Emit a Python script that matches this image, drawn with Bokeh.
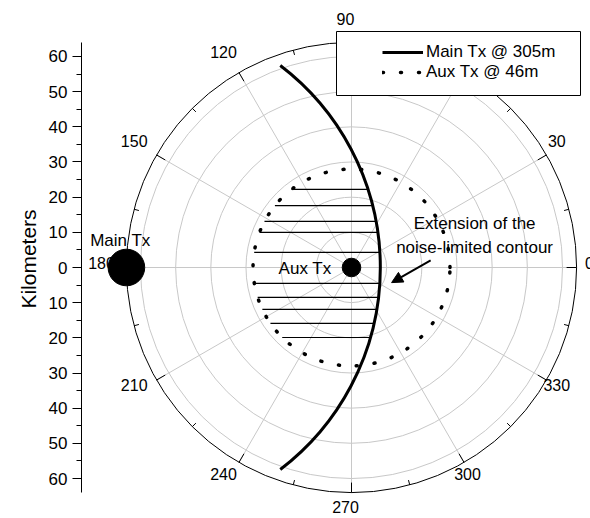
import numpy as np
from bokeh.plotting import figure
from bokeh.models import (FixedTicker, Legend, LegendItem, BoxAnnotation, Arrow,
                          NormalHead, Range1d)
from bokeh.core.properties import value
from bokeh.embed import file_html
from bokeh.resources import INLINE

# ---------------- data ----------------
r_max = 64                                   # km, outer ring
ring_radii = [10, 20, 30, 40, 50, 60]        # km
spoke_angles = [0, 30, 60, 90, 120, 150, 180, 210, 240, 270, 300, 330]
angle_labels = ["0", "30", "60", "90", "120", "150", "180", "210", "240", "270", "300", "330"]
minor_angles = [15, 45, 75, 105, 135, 165, 195, 225, 255, 285, 315, 345]
km_ticks = [-60, -50, -40, -30, -20, -10, 0, 10, 20, 30, 40, 50, 60]
km_tick_labels = ["60", "50", "40", "30", "20", "10", "0", "10", "20", "30", "40", "50", "60"]
km_minor = [-55, -45, -35, -25, -15, -5, 5, 15, 25, 35, 45, 55]

main_tx_angle, main_tx_dist = 180, 64        # deg, km
aux_tx_angle, aux_tx_dist = 0, 0
main_contour_radius = 72.2                   # km around Main Tx
main_contour_half_span = 52.7                # deg, seen from Main Tx
aux_contour_radius = 28                      # km around Aux Tx
hatch_y = [22.2, 17.6, 13.1, 10.0, 4.3, -4.5, -8.5, -11.9, -15.9, -19.9]

series_names = ["Main Tx @ 305m", "Aux Tx @ 46m"]
annotation_text = "Extension of the\nnoise-limited contour"
annotation_pos = (35.0, 9.1)
arrow_start = (22.5, 2.0)
arrow_end = (11.4, -4.3)

# ---------------- figure ----------------
PX_PER_KM = 3.517
FONT = value("Liberation Sans")
GRID = "#c8c8c8"
FW, FH, LEFT = 509, 517, 81
CX, CY = 270, 267        # polar centre inside the frame, px

p = figure(frame_width=FW, frame_height=FH,
           x_range=Range1d(-CX / PX_PER_KM, (FW - CX) / PX_PER_KM),
           y_range=Range1d(-(FH - CY) / PX_PER_KM, CY / PX_PER_KM),
           x_axis_location=None, y_axis_location="left",
           min_border_left=LEFT, min_border_right=0, min_border_top=0, min_border_bottom=0,
           toolbar_location=None, output_backend="svg",
           background_fill_color="white", border_fill_color="white")
p.outline_line_color = None
p.grid.visible = False

# left axis
ax = p.yaxis[0]
ax.ticker = FixedTicker(ticks=km_ticks, minor_ticks=km_minor)
ax.major_label_overrides = {t: l for t, l in zip(km_ticks, km_tick_labels)}
ax.bounds = (-r_max, r_max)
ax.axis_label = "Kilometers"
ax.axis_label_text_font = "Liberation Sans"
ax.axis_label_text_font_size = "21px"
ax.axis_label_text_font_style = "normal"
ax.axis_label_text_color = "black"
ax.axis_label_standoff = 6
ax.major_label_text_font = "Liberation Sans"
ax.major_label_text_font_size = "17px"
ax.major_label_text_color = "black"
ax.major_label_standoff = 5
ax.major_tick_out = 9
ax.major_tick_in = 0
ax.minor_tick_out = 5
ax.minor_tick_in = 0
ax.axis_line_color = "black"
ax.major_tick_line_color = "black"
ax.minor_tick_line_color = "black"

# polar grid
p.circle(x=0, y=0, radius=ring_radii, fill_color=None, line_color=GRID, line_width=1)
sp = np.radians(spoke_angles)
p.ray(x=0, y=0, length=r_max, angle=sp, length_units="data", line_color=GRID, line_width=1)
p.circle(x=0, y=0, radius=r_max, fill_color=None, line_color="black", line_width=1)

# angular ticks (inward)
maj_len = 10 / PX_PER_KM
min_len = 5 / PX_PER_KM
mi = np.radians(minor_angles)
p.segment(x0=r_max * np.cos(sp), y0=r_max * np.sin(sp),
          x1=(r_max - maj_len) * np.cos(sp), y1=(r_max - maj_len) * np.sin(sp),
          line_color="black", line_width=1)
p.segment(x0=r_max * np.cos(mi), y0=r_max * np.sin(mi),
          x1=(r_max - min_len) * np.cos(mi), y1=(r_max - min_len) * np.sin(mi),
          line_color="black", line_width=1)

# angular labels
lab_r = 244 / PX_PER_KM
p.text(x=lab_r * np.cos(sp), y=lab_r * np.sin(sp), text=angle_labels,
       text_font=FONT, text_font_size="16px", text_color="black",
       text_align="center", text_baseline="middle", x_offset=-6, y_offset=-4.5)

# transmitter positions
mx = main_tx_dist * np.cos(np.radians(main_tx_angle))
my = main_tx_dist * np.sin(np.radians(main_tx_angle))
axx = aux_tx_dist * np.cos(np.radians(aux_tx_angle))
ayy = aux_tx_dist * np.sin(np.radians(aux_tx_angle))

# hatch lines between aux contour and main contour
hy = np.array(hatch_y)
hx0 = axx - np.sqrt(aux_contour_radius ** 2 - hy ** 2)
hx1 = mx + np.sqrt(main_contour_radius ** 2 - (hy - my) ** 2)
p.segment(x0=hx0, y0=hy, x1=hx1, y1=hy, line_color="black", line_width=1.2)

# contours
main_r = p.arc(x=mx, y=my, radius=main_contour_radius,
               start_angle=np.radians(-main_contour_half_span),
               end_angle=np.radians(main_contour_half_span),
               line_color="black", line_width=3)
aux_r = p.arc(x=axx, y=ayy, radius=aux_contour_radius, start_angle=0, end_angle=2 * np.pi,
              line_color="black", line_width=3.5, line_dash="1 17", line_cap="round")

# transmitters
p.circle(x=[mx], y=[my], radius=18.3 / PX_PER_KM, fill_color="black", line_color="black")
p.circle(x=[axx], y=[ayy], radius=9.3 / PX_PER_KM, fill_color="black", line_color="black")
p.text(x=[mx], y=[my], text=["Main Tx"], text_font=FONT, text_font_size="17px",
       text_align="center", text_baseline="middle", x_offset=-6, y_offset=-27, text_color="black")
p.text(x=[axx], y=[ayy], text=["Aux Tx"], text_font=FONT, text_font_size="17px",
       text_align="right", text_baseline="middle", x_offset=-20, y_offset=1, text_color="black")

# annotation
p.text(x=[annotation_pos[0]], y=[annotation_pos[1]], text=[annotation_text],
       text_font=FONT, text_font_size="17px", text_align="center", text_baseline="middle",
       text_line_height=1.3, text_color="black")
p.add_layout(Arrow(x_start=arrow_start[0], y_start=arrow_start[1],
                   x_end=arrow_end[0], y_end=arrow_end[1], line_width=2, line_color="black",
                   end=NormalHead(size=11, fill_color="black", line_color="black")))

# legend frame + legend (screen px relative to the frame, y up from its bottom)
p.add_layout(BoxAnnotation(left=336 - LEFT, right=580 - LEFT, top=FH - 31, bottom=FH - 95,
                           left_units="screen", right_units="screen",
                           top_units="screen", bottom_units="screen",
                           fill_color="white", fill_alpha=1, line_color="black", line_width=1,
                           line_alpha=1))
legend = Legend(items=[LegendItem(label=series_names[0], renderers=[main_r]),
                       LegendItem(label=series_names[1], renderers=[aux_r])],
                location=(382 - LEFT, FH - 82), padding=0, spacing=0, margin=0,
                glyph_width=41, glyph_height=20, label_height=20, label_standoff=3,
                label_text_font="Liberation Sans", label_text_font_size="17px",
                label_text_color="black",
                border_line_color=None, background_fill_alpha=0)
p.add_layout(legend)

open("out.html", "w").write(file_html(p, INLINE))
